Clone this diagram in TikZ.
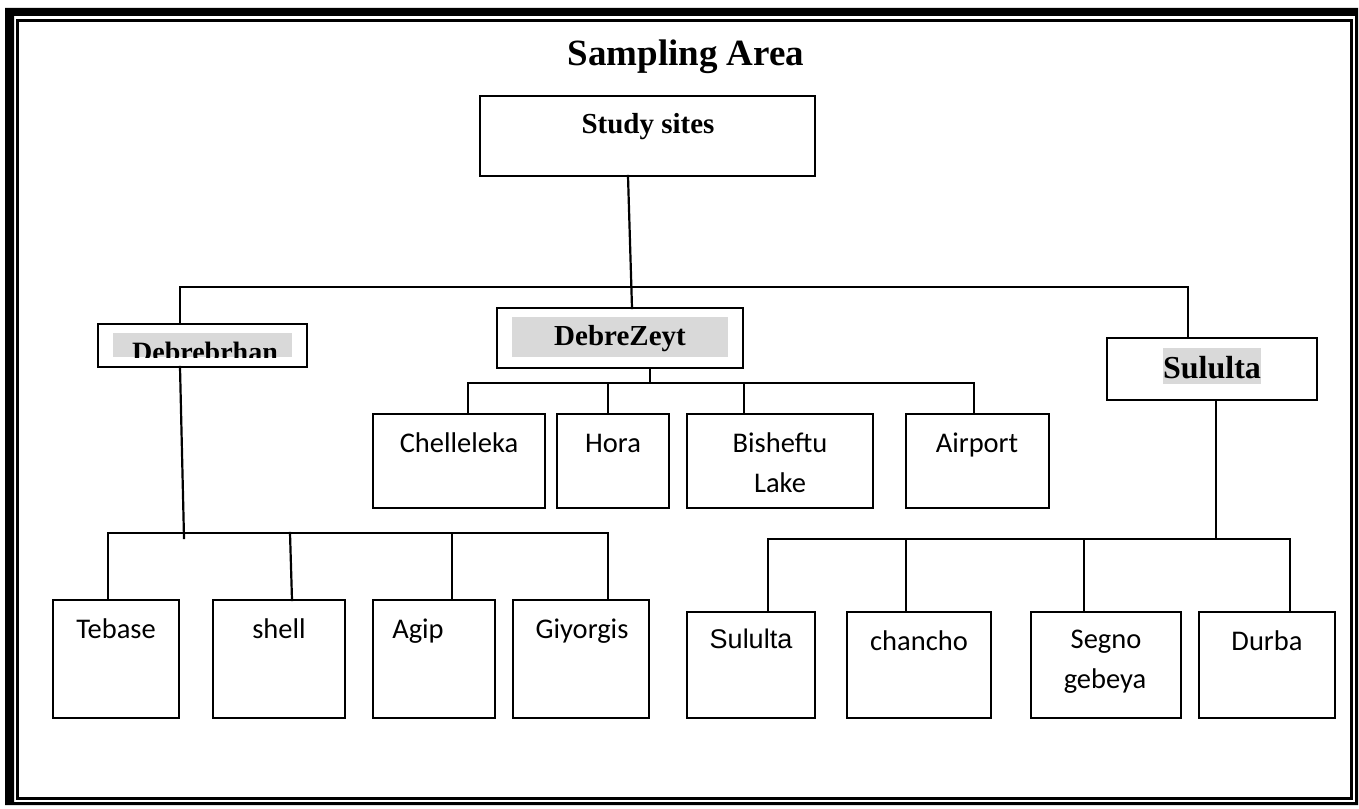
\documentclass[tikz,border=0pt]{standalone}
\usepackage{fontspec}
\setmainfont{Liberation Serif}
\newfontfamily\calfont{Carlito}
\newfontfamily\arifont{Liberation Sans}
\definecolor{hlgray}{HTML}{D9D9D9}
\newcommand\mybox[6][]{\node[box,minimum width=#5pt,minimum height=#6pt,#1] (#2) at (#3,#4) {};}
\begin{document}
\begin{tikzpicture}[x=1pt,y=-1pt,
  box/.style={draw,line width=2.6pt,rectangle,inner sep=0pt,outer sep=0pt,anchor=north west},
  conn/.style={line width=2.2pt,line cap=rect},
  leaf/.style={anchor=base,inner sep=0pt,font=\calfont\fontsize{28.5}{34}\selectfont},
  head/.style={anchor=base,inner sep=0pt,font=\bfseries\fontsize{29}{34}\selectfont},
  hl/.style={fill=hlgray,draw=none}]
\useasboundingbox (0,0) rectangle (1359,808);
% page frame
\fill[even odd rule] (5,8) rectangle (1358,805) (14,16) rectangle (1355,802);
\draw[line width=3pt] (17.5,20.5) rectangle (1351.5,798.5);
% title
\node[anchor=base,inner sep=0pt,font=\bfseries\fontsize{37}{42}\selectfont] (title) at (686,66) {Sampling Area};
% main boxes
\mybox{study}{480}{96}{335}{80}
\node[head] (tstudy) at (648,133) {Study sites};
\fill[hl] (512,317) rectangle (728,357);
\mybox{dz}{497}{308}{246}{60}
\node[head] (tdz) at (620,345) {DebreZeyt};
\fill[hl] (113,333) rectangle (292,357);
\mybox{db}{98}{324}{209}{43}
\begin{scope}
\clip (100,328) rectangle (300,357);
\node[head,font=\bfseries\fontsize{28}{34}\selectfont] (tdb) at (205,361) {Debrebrhan};
\end{scope}
\fill[hl] (1163,348) rectangle (1261,384);
\mybox{su}{1107}{338}{210}{62}
\node[head,font=\bfseries\fontsize{32}{36}\selectfont] (tsu) at (1212,378) {Sululta};
% DebreZeyt children
\mybox{chel}{373}{414}{172}{94}
\mybox{hora}{557}{414}{112}{94}
\mybox{bish}{687}{414}{186}{94}
\mybox{air}{906}{414}{143}{94}
\node[leaf] (tchel) at (459,452) {Chelleleka};
\node[leaf] (thora) at (613,452) {Hora};
\node[leaf] (tbish) at (780,452) {Bisheftu};
\node[leaf] (tlake) at (780,492) {Lake};
\node[leaf] (tair) at (977,452) {Airport};
% Debrebrhan children
\mybox{tebase}{53}{600}{126}{118}
\mybox{shell}{213}{600}{132}{118}
\mybox{agip}{373}{600}{122}{118}
\mybox{giy}{513}{600}{136}{118}
\node[leaf] (ttebase) at (116,638) {Tebase};
\node[leaf] (tshell) at (279,638) {shell};
\node[leaf] (tagip) at (418,638) {Agip};
\node[leaf] (tgiy) at (582,638) {Giyorgis};
% Sululta children
\mybox{sul2}{687}{612}{128}{106}
\mybox{chan}{847}{612}{144}{106}
\mybox{seg}{1031}{612}{150}{106}
\mybox{durba}{1199}{612}{136}{106}
\node[anchor=base,inner sep=0pt,font=\arifont\fontsize{27}{32}\selectfont] (tsul2) at (751,648) {Sululta};
\node[leaf] (tchan) at (919,650) {chancho};
\node[leaf] (tseg) at (1106,648) {Segno};
\node[leaf] (tgeb) at (1105,688) {gebeya};
\node[leaf] (tdurba) at (1267,650) {Durba};
% connectors: top level
\draw[conn] (study.south -| 628,0) -- (dz.north -| 632,0);
\coordinate (busL) at (180,287);
\coordinate (busR) at (1188,287);
\draw[conn] (db.north -| busL) -- (busL) -- (busR) -- (su.north -| busR);
% DebreZeyt bus
\coordinate (dzL) at (468,383);
\coordinate (dzR) at (974,383);
\draw[conn] (dz.south -| 650,0) -- (650,383);
\draw[conn] (chel.north -| dzL) -- (dzL) -- (dzR) -- (air.north -| dzR);
\draw[conn] (hora.north -| 608,0) -- (608,383);
\draw[conn] (bish.north -| 744,0) -- (744,383);
% Debrebrhan bus
\coordinate (dbL) at (108,533);
\coordinate (dbR) at (608,533);
\coordinate (dbEnd) at (184,538);
\draw[conn] (db.south -| 180,0) -- (dbEnd);
\draw[conn] (tebase.north -| dbL) -- (dbL) -- (dbR) -- (giy.north -| dbR);
\draw[conn] (shell.north -| 292,0) -- (290,533);
\draw[conn] (agip.north -| 452,0) -- (452,533);
% Sululta bus
\coordinate (suL) at (768,539);
\coordinate (suR) at (1290,539);
\draw[conn] (su.south -| 1216,0) -- (1216,539);
\draw[conn] (sul2.north -| suL) -- (suL) -- (suR) -- (durba.north -| suR);
\draw[conn] (chan.north -| 906,0) -- (906,539);
\draw[conn] (seg.north -| 1084,0) -- (1084,539);
\end{tikzpicture}
\end{document}
